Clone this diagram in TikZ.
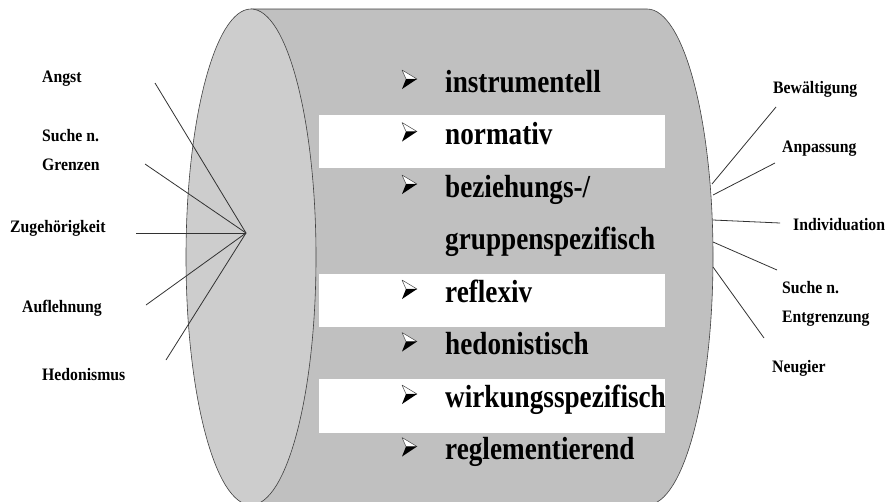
\documentclass[tikz,border=0pt]{standalone}
\usepackage{fontspec}
\setmainfont{Liberation Serif}
\newfontfamily\listfont[FakeStretch=0.85]{Liberation Serif}
\newfontfamily\sidefont[FakeStretch=0.9]{Liberation Serif}
\usetikzlibrary{positioning}
\definecolor{tube}{RGB}{192,192,192}
\definecolor{tubeface}{RGB}{205,205,205}
\definecolor{rim}{RGB}{64,64,64}
\definecolor{spoke}{RGB}{50,50,50}

\tikzset{
  % 3d arrowhead used as list bullet
  arrowbul/.pic={
    \filldraw[fill=white, draw=black!75, line width=0.5pt, line join=round]
      (0,0) -- (15,9) -- (4,9) -- cycle;
    \fill[black] (4,9) -- (15,9) -- (0,19) -- cycle;
  }
}

\begin{document}
\begin{tikzpicture}[x=1pt, y=-1pt, inner sep=0pt,
      item/.style={anchor=base west, font=\listfont\bfseries\fontsize{32}{32}\selectfont},
      lab/.style={anchor=base west, align=left,
        font=\sidefont\bfseries\fontsize{17.5}{29}\selectfont},
      link/.style={draw=spoke, line width=0.8pt}]
  \useasboundingbox (0,0) rectangle (885,501);
  % body of the tube, right end as half ellipse
  \fill[tube] (251,9) rectangle (647,505);
  \fill[tube] (647,257) ellipse [x radius=66, y radius=248];
  \draw[rim, line width=0.6pt] (251,9) -- (647,9)
    arc[start angle=-90, end angle=90, x radius=66, y radius=248] -- (251,505);
  % front face
  \draw[rim, fill=tubeface, line width=0.6pt] (251,257) ellipse [x radius=65, y radius=248];
  % white stripes
  \fill[white] (319,115) rectangle (665,168);
  \fill[white] (319,274) rectangle (665,327);
  \fill[white] (319,379) rectangle (665,433);

  % list inside the tube
  \node[item] (instr) at (445,92) {instrumentell};
  \node[item] (norm) at (445,144.5) {normativ};
  \node[item] (bez) at (445,197) {beziehungs-/};
  \node[item] (grp) at (445,249.5) {gruppenspezifisch};
  \node[item] (refl) at (445,302) {reflexiv};
  \node[item] (hed) at (445,354.5) {hedonistisch};
  \node[item] (wirk) at (445,407) {wirkungsspezifisch};
  \node[item] (regl) at (445,459.5) {reglementierend};
  \foreach \n in {instr, norm, bez, refl, hed, wirk, regl}
    \pic at ([xshift=-43pt, yshift=22pt]\n.base west) {arrowbul};

  % motives on the left
  \node[lab] (angst) at (42,82) {Angst};
  \node[lab, anchor=north west] (grenz) at (42,129) {Suche n.\\Grenzen};
  \node[lab] (zug) at (10,232) {Zugehörigkeit};
  \node[lab] (aufl) at (22,312) {Auflehnung};
  \node[lab] (hedo) at (42,380) {Hedonismus};
  \coordinate (hub) at (246,233);
  \coordinate (a1) at (155,83);
  \coordinate (a2) at (145,164);
  \coordinate (a3) at (136,233);
  \coordinate (a4) at (146,305);
  \coordinate (a5) at (166,360);
  \foreach \c in {a1,a2,a3,a4,a5}
    \draw[link] (\c) -- (hub);

  % outcomes on the right
  \node[lab] (bew) at (773,93) {Bewältigung};
  \node[lab] (anp) at (782,152) {Anpassung};
  \node[lab] (ind) at (793,230) {Individuation};
  \node[lab, anchor=north west] (entg) at (782,281) {Suche n.\\Entgrenzung};
  \node[lab] (neu) at (772,372) {Neugier};
  \coordinate (b1) at (776,107);  \coordinate (e1) at (712,184);
  \coordinate (b2) at (775,163);  \coordinate (e2) at (713,195);
  \coordinate (b3) at (780,223);  \coordinate (e3) at (713,220);
  \coordinate (b4) at (777,270);  \coordinate (e4) at (713,242);
  \coordinate (b5) at (764,338);  \coordinate (e5) at (713,267);
  \foreach \i in {1,...,5}
    \draw[link] (e\i) -- (b\i);
\end{tikzpicture}
\end{document}
